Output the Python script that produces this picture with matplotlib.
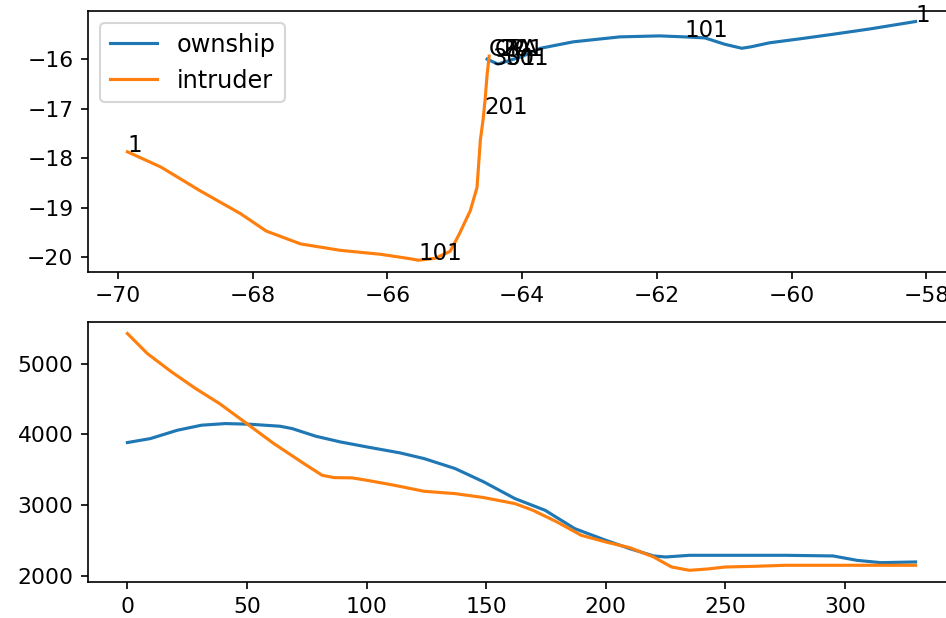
import matplotlib.pyplot as plt
from matplotlib.ticker import MultipleLocator

# trajectoire ownship (lon, lat), du point 1 vers la fin
own_lon = [-58.16, -58.84, -59.40, -59.88, -60.33, -60.60, -60.74, -60.99, -61.29,
           -61.59, -61.96, -62.55, -63.24, -63.73, -63.99, -64.22, -64.36, -64.52]
own_lat = [-15.24, -15.39, -15.50, -15.59, -15.67, -15.75, -15.78, -15.70, -15.57,
           -15.55, -15.53, -15.55, -15.65, -15.78, -15.94, -16.04, -16.10, -16.00]

# trajectoire intruder
int_lon = [-69.86, -69.36, -68.79, -68.18, -67.80, -67.29, -66.70, -66.10, -65.66,
           -65.54, -65.29, -65.07, -64.94, -64.77, -64.67, -64.62, -64.58, -64.55,
           -64.52, -64.49]
int_lat = [-17.87, -18.18, -18.65, -19.12, -19.47, -19.73, -19.86, -19.94, -20.03,
           -20.06, -20.02, -19.88, -19.55, -19.06, -18.59, -17.63, -17.22, -16.82,
           -16.31, -15.94]

# étiquettes (index / CPA)
own_lab = ['1', '101', '201', '301', 'CPA']
own_lab_lon = [-58.16, -61.59, -64.33, -64.45, -64.49]
own_lab_lat = [-15.24, -15.55, -15.94, -16.12, -15.94]
int_lab = ['1', '101', '201', '301', 'CPA']
int_lab_lon = [-69.86, -65.54, -64.56, -64.25, -64.40]
int_lab_lat = [-17.87, -20.06, -17.10, -16.12, -15.94]

# altitude vs temps
own_t = [0, 9.6, 20.9, 31, 41, 51, 63.7, 68.8, 78.8, 89, 100, 114, 124, 137, 149,
         162, 174.6, 187, 200, 210, 220, 225, 235, 250, 275, 295, 305, 315, 329.5]
own_alt = [3884, 3940, 4058, 4129, 4152, 4143, 4115, 4082, 3973, 3893, 3823, 3738,
           3658, 3517, 3328, 3093, 2928, 2669, 2504, 2386, 2283, 2268, 2292, 2292,
           2292, 2283, 2221, 2188, 2198]
int_t = [0, 8.3, 18.4, 28.5, 38.5, 49.9, 61.2, 73.8, 81.4, 86.4, 94, 100, 111.6, 124,
         137, 149, 162, 169.5, 179.6, 189.7, 200, 210, 220, 227.5, 235, 242.6, 250,
         262.7, 275, 300, 329.5]
int_alt = [5424, 5142, 4883, 4647, 4435, 4152, 3870, 3587, 3422, 3389, 3385, 3352,
           3281, 3196, 3163, 3107, 3022, 2928, 2763, 2575, 2480, 2400, 2268, 2127,
           2080, 2099, 2127, 2137, 2151, 2151, 2151]

plt.rcParams['font.size'] = 11
plt.rcParams['xtick.labelsize'] = 10.5
plt.rcParams['ytick.labelsize'] = 10.5
fig, (ax1, ax2) = plt.subplots(2, 1, figsize=(946 / 150, 618 / 150), dpi=150)
fig.subplots_adjust(left=0.093, right=1.0095, top=0.982, bottom=0.058, hspace=0.192)

ax1.plot(own_lon, own_lat, label='ownship')
ax1.plot(int_lon, int_lat, label='intruder')
for s, x, y in zip(own_lab, own_lab_lon, own_lab_lat):
    ax1.text(x, y, s)
for s, x, y in zip(int_lab, int_lab_lon, int_lab_lat):
    ax1.text(x, y, s)
ax1.legend(loc='upper left', fontsize=11.5)
ax1.yaxis.set_major_locator(MultipleLocator(1))
ax1.set_ylim(-20.29, -15.03)

ax2.plot(own_t, own_alt)
ax2.plot(int_t, int_alt)

fig.savefig('out.png', dpi=150)
